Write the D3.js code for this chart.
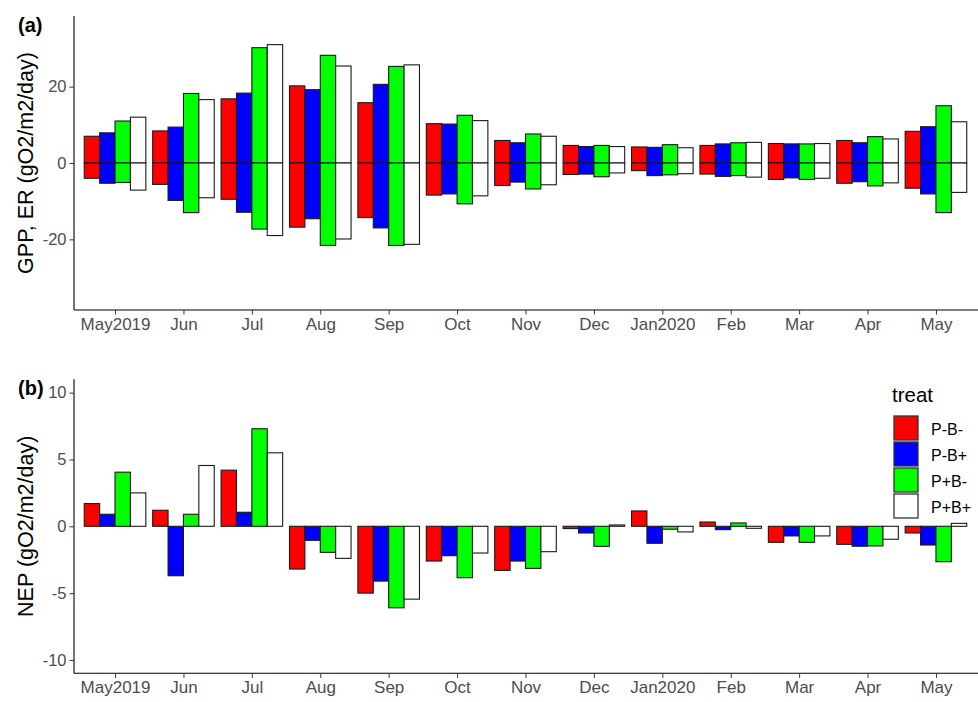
<!DOCTYPE html>
<html>
<head>
<meta charset="utf-8">
<script src="https://cdn.jsdelivr.net/npm/d3@7"></script>
<style>
  body { margin: 0; background: #fff; }
  text { font-family: "Liberation Sans", Arial, Helvetica, sans-serif; }
</style>
</head>
<body>
<svg id="chart" width="978" height="702"></svg>
<script>
// ---------- data ----------
const months = ["May2019","Jun","Jul","Aug","Sep","Oct","Nov","Dec","Jan2020","Feb","Mar","Apr","May"];
const treats = ["P-B-","P-B+","P+B-","P+B+"];
const colors = ["#FF0000","#0000FF","#00FF00","#FFFFFF"];

// GPP (positive bars, panel a)
const gppPmBm = [7.0, 8.4, 16.8, 20.2, 15.8, 10.3, 5.9, 4.6, 4.2, 4.6, 5.1, 5.9, 8.3];
const gppPmBp = [7.9, 9.4, 18.3, 19.2, 20.6, 10.2, 5.3, 4.3, 4.1, 5.0, 5.0, 5.3, 9.5];
const gppPpBm = [11.0, 18.2, 30.2, 28.2, 25.3, 12.5, 7.6, 4.6, 4.8, 5.3, 5.0, 6.9, 15.0];
const gppPpBp = [12.0, 16.6, 31.0, 25.4, 25.7, 11.1, 7.0, 4.3, 4.0, 5.4, 5.1, 6.3, 10.8];

// ER (negative bars, panel a)
const erPmBm = [-4.0, -5.6, -9.5, -16.8, -14.3, -8.4, -5.9, -3.0, -2.0, -2.9, -4.3, -5.3, -6.6];
const erPmBp = [-5.3, -9.8, -12.9, -14.6, -17.0, -8.1, -5.0, -2.9, -3.3, -3.5, -3.9, -4.9, -8.1];
const erPpBm = [-5.1, -13.0, -17.3, -21.6, -21.6, -10.7, -6.8, -3.6, -3.1, -3.3, -4.3, -6.0, -13.0];
const erPpBp = [-7.1, -9.1, -19.0, -19.9, -21.3, -8.6, -5.7, -2.6, -2.8, -3.7, -4.0, -5.2, -7.7];

// NEP (panel b)
const nepPmBm = [1.7, 1.2, 4.2, -3.2, -5.0, -2.6, -3.3, -0.17, 1.15, 0.32, -1.2, -1.35, -0.5];
const nepPmBp = [0.9, -3.7, 1.05, -1.05, -4.1, -2.2, -2.6, -0.5, -1.27, -0.25, -0.72, -1.49, -1.4];
const nepPpBm = [4.05, 0.9, 7.3, -1.95, -6.1, -3.85, -3.15, -1.5, -0.22, 0.25, -1.2, -1.47, -2.65];
const nepPpBp = [2.5, 4.55, 5.5, -2.4, -5.45, -2.0, -1.9, 0.1, -0.42, -0.15, -0.72, -0.97, 0.22];

const yTicksA = [-20, 0, 20];
const yTicksB = [-10, -5, 0, 5, 10];

// ---------- build ----------
const gpp = [gppPmBm, gppPmBp, gppPpBm, gppPpBp];
const er  = [erPmBm, erPmBp, erPpBm, erPpBp];
const nep = [nepPmBm, nepPmBp, nepPpBm, nepPpBp];

const svg = d3.select("#chart");
const left = 74, right = 977;

const x = d3.scalePoint().domain(months).range([left, right]).padding(0.6);
const step = x.step();
const sub = d3.scaleBand().domain(treats).range([-step * 0.45, step * 0.45]);

function rows(series) {
  const out = [];
  series.forEach((arr, ti) => arr.forEach((v, mi) => out.push({m: months[mi], t: treats[ti], ti, v})));
  return out;
}

function panel(top, bottom, domain, ticks, seriesList, title, tag, tagY) {
  const y = d3.scaleLinear().domain(domain).range([bottom, top]);
  const g = svg.append("g");

  seriesList.forEach(series => {
    g.selectAll(null).data(rows(series)).enter().append("rect")
      .attr("x", d => x(d.m) + sub(d.t))
      .attr("width", sub.bandwidth())
      .attr("y", d => y(Math.max(0, d.v)))
      .attr("height", d => Math.abs(y(d.v) - y(0)))
      .attr("fill", d => colors[d.ti])
      .attr("stroke", "#1a1a1a")
      .attr("stroke-width", 1.1);
  });

  // axes
  const yAxis = d3.axisLeft(y).tickValues(ticks).tickSize(4.5).tickPadding(3)
    .tickFormat(d => String(d));
  const ya = svg.append("g").attr("transform", `translate(${left},0)`).call(yAxis);
  ya.select(".domain").attr("d", `M0,${top}V${bottom}`).attr("stroke", "#000").attr("stroke-width", 1.1);
  ya.selectAll(".tick line").attr("stroke", "#333");
  ya.selectAll(".tick text").attr("fill", "#4d4d4d").style("font-size", "16.5px")
    .style("font-family", "Liberation Sans, Arial, sans-serif");

  const xAxis = d3.axisBottom(x).tickSize(4.5).tickPadding(3);
  const xa = svg.append("g").attr("transform", `translate(0,${bottom})`).call(xAxis);
  xa.select(".domain").attr("d", `M${left},0H${right + 1}`).attr("stroke", "#000").attr("stroke-width", 1.1);
  xa.selectAll(".tick line").attr("stroke", "#333");
  xa.selectAll(".tick text").attr("fill", "#4d4d4d").style("font-size", "17px")
    .style("font-family", "Liberation Sans, Arial, sans-serif");

  svg.append("text")
    .attr("transform", `translate(33,${(top + bottom) / 2}) rotate(-90)`)
    .attr("text-anchor", "middle")
    .style("font-size", "21.5px")
    .attr("fill", "#000")
    .text(title);

  svg.append("text")
    .attr("x", 18).attr("y", tagY)
    .style("font-size", "20px").style("font-weight", "bold")
    .text(tag);
}

panel(16, 310, [-38.5, 38.5], yTicksA, [gpp, er], "GPP, ER (gO2/m2/day)", "(a)", 32);
panel(379.3, 673.3, [-11, 11], yTicksB, [nep], "NEP (gO2/m2/day)", "(b)", 395);

// legend
const lg = svg.append("g");
lg.append("text").attr("x", 892).attr("y", 402).style("font-size", "20.5px").text("treat");
treats.forEach((t, i) => {
  const cy = 416 + i * 26;
  lg.append("rect").attr("x", 894).attr("y", cy).attr("width", 24).attr("height", 24)
    .attr("fill", colors[i]).attr("stroke", "#333").attr("stroke-width", 1.3);
  lg.append("text").attr("x", 931).attr("y", cy + 19).style("font-size", "16px").text(t);
});
</script>
</body>
</html>
